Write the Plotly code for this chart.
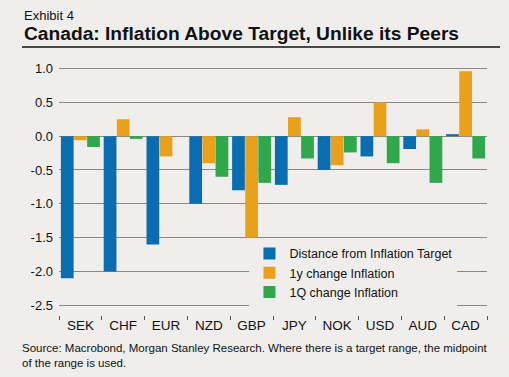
import plotly.graph_objects as go

categories = ["SEK", "CHF", "EUR", "NZD", "GBP", "JPY", "NOK", "USD", "AUD", "CAD"]
distance_from_target = [-2.1, -2.0, -1.6, -1.0, -0.8, -0.72, -0.5, -0.3, -0.19, 0.03]
change_1y = [-0.06, 0.25, -0.3, -0.4, -1.5, 0.28, -0.43, 0.5, 0.1, 0.96]
change_1q = [-0.16, -0.04, 0.0, -0.6, -0.69, -0.33, -0.24, -0.4, -0.69, -0.33]
series_names = ["Distance from Inflation Target", "1y change Inflation", "1Q change Inflation"]
y_tick_values = [1.0, 0.5, 0.0, -0.5, -1.0, -1.5, -2.0, -2.5]
y_tick_labels = ["1.0", "0.5", "0.0", "-0.5", "-1.0", "-1.5", "-2.0", "-2.5"]

colors = ["#0a6db1", "#e9a11b", "#2ea84a"]
bg = "#efeeec"
font = "Liberation Sans, Arial, sans-serif"

W, H = 509, 377
L, R, T, B = 59, 22, 55, 62
PW, PH = W - L - R, H - T - B


def px_x(px):
    return (px - L) / PW


def px_y(py):
    return (H - B - py) / PH


fig = go.Figure()
for name, vals, c in zip(series_names, [distance_from_target, change_1y, change_1q], colors):
    fig.add_trace(go.Bar(x=categories, y=vals, name=name, marker=dict(color=c, line=dict(width=0))))

fig.update_layout(
    width=W, height=H,
    paper_bgcolor=bg, plot_bgcolor=bg,
    margin=dict(l=L, r=R, t=T, b=B),
    barmode="group", bargap=0.08, bargroupgap=0.03,
    font=dict(family=font, color="#111", size=13),
    showlegend=True,
    legend=dict(x=0.445, y=0.293, xanchor="left", yanchor="top", bgcolor=bg,
                font=dict(size=12.5, family=font, color="#111"),
                itemwidth=30, tracegroupgap=0, traceorder="normal"),
    xaxis=dict(type="category", showgrid=False, ticks="outside", tickson="boundaries",
               ticklen=4, tickcolor="#555", tickwidth=1, showline=False,
               tickfont=dict(size=13.5, family=font, color="#111"), range=[-0.5, 9.5]),
    yaxis=dict(range=[-2.644, 1.2], tickvals=y_tick_values, ticktext=y_tick_labels,
               showgrid=True, gridcolor="#8a8784", gridwidth=1,
               zeroline=True, zerolinecolor="#8a8784", zerolinewidth=1,
               ticks="", tickfont=dict(size=13, family=font, color="#111"), ticklabelstandoff=5),
)

texts = [
    ("Exhibit 4", 22, 15, 13),
    ("<b>Canada: Inflation Above Target, Unlike its Peers</b>", 22, 33, 19.2),
    ("Source: Macrobond, Morgan Stanley Research. Where there is a target range, the midpoint<br>of the range is used.", 20, 356, 11.5),
]
for txt, px, py, size in texts:
    fig.add_annotation(text=txt, xref="paper", yref="paper", x=px_x(px), y=px_y(py),
                       showarrow=False, xanchor="left", yanchor="middle", align="left",
                       font=dict(size=size, family=font, color="#111"))

fig.add_shape(type="line", xref="paper", yref="paper",
              x0=px_x(22), x1=px_x(500), y0=px_y(47), y1=px_y(47),
              line=dict(color="#111", width=1.5))

fig.write_html("out.html", config={"displayModeBar": False},
               post_script="document.body.style.margin='0';document.body.style.background='%s';" % bg)
